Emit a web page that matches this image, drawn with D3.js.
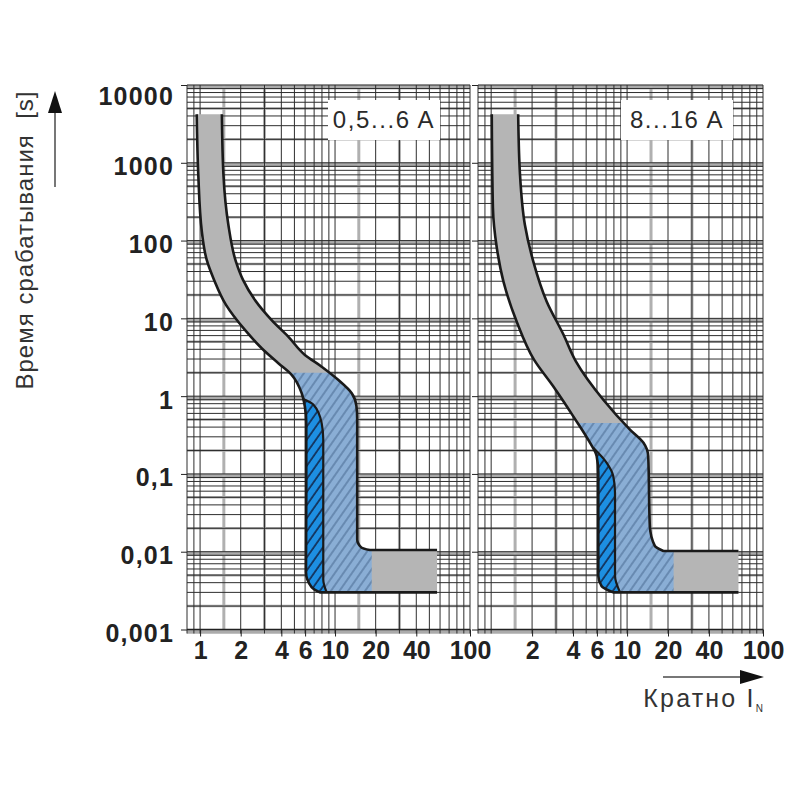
<!DOCTYPE html>
<html>
<head>
<meta charset="utf-8">
<script src="https://cdn.jsdelivr.net/npm/d3@7"></script>
<style>
  body { margin: 0; background: #fff; }
  svg { display: block; }
  text { font-family: "Liberation Sans", Arial, Helvetica, sans-serif; }
</style>
</head>
<body>
<svg id="chart" width="800" height="800"></svg>
<script>
// ---------------- DATA ----------------
const yTickValues = [10000, 1000, 100, 10, 1, 0.1, 0.01, 0.001];
const yTickLabels = ["10000", "1000", "100", "10", "1", "0,1", "0,01", "0,001"];
const xTicksLeft = [1, 2, 4, 6, 10, 20, 40, 100];
const xTickLabelsLeft = ["1", "2", "4", "6", "10", "20", "40", "100"];
const xTicksRight = [2, 4, 6, 10, 20, 40, 100];
const xTickLabelsRight = ["2", "4", "6", "10", "20", "40", "100"];
const panelTitles = ["0,5...6 A", "8...16 A"];
const yTitle = "Время срабатывания  [s]";
const xTitle = "Кратно I";
const xTitleSub = "N";

// curves: [multiple of I_N, trip time in s]
// panel A: 0,5...6 A
const minCurveA = [[0.944, 4200], [0.97, 700], [1.03, 131], [1.12, 56.4], [1.27, 31.2], [1.556, 14.9],
  [2.15, 7.1], [2.86, 4.13], [3.8, 2.65], [4.77, 1.88], [5.66, 1.09], [5.98, 0.73], [6.12, 0.45],
  [6.12, 0.05], [6.09, 0.0055], [6.71, 0.0035], [7.73, 0.003], [57, 0.003]];
const maxCurveA = [[1.45, 4200], [1.49, 700], [1.62, 160], [1.846, 53.1], [2.08, 31.2], [2.55, 17.2],
  [3.39, 9.5], [4.5, 5.82], [5.98, 3.39], [7.96, 2.39], [10.6, 1.61], [13.3, 1.09], [14.4, 0.75],
  [14.6, 0.5], [14.6, 0.0144], [15.7, 0.0113], [18.1, 0.0105], [57, 0.0105]];
const innerCurveA = [[5.82, 0.92], [6.9, 0.78], [7.96, 0.45], [8.18, 0.277], [8.18, 0.0044], [8.67, 0.003]];
const blueLimitA = [18.7, 2.0];   // [max multiple, max seconds] of hatched zone

// panel B: 8...16 A
const minCurveB = [[1.01, 4200], [1.03, 264], [1.10, 81], [1.23, 29.9], [1.54, 9.1], [2.065, 2.95],
  [2.86, 1.34], [4.02, 0.55], [5.33, 0.252], [5.97, 0.17], [6.14, 0.1035], [6.14, 0.0049],
  [6.5, 0.0036], [7.91, 0.003], [66, 0.003]];
const maxCurveB = [[1.58, 4200], [1.63, 700], [1.77, 160], [2.04, 54], [2.56, 16.5], [3.4, 6.2],
  [4.21, 2.78], [6.68, 0.9], [10.5, 0.372], [13.2, 0.252], [14.3, 0.17], [14.7, 0.0214],
  [16.0, 0.0119], [18.5, 0.0102], [66, 0.0102]];
const innerCurveB = [[5.64, 0.217], [7.08, 0.139], [7.91, 0.094], [8.15, 0.057], [8.15, 0.0049], [8.87, 0.003]];
const blueLimitB = [22, 0.45];

// ---------------- CHART ----------------
const svg = d3.select("#chart");
const defs = svg.append("defs");
const FONT = '"Liberation Sans", Arial, Helvetica, sans-serif';

const yTop = 85, yBottom = 629.5;
const y = d3.scaleLog().domain([0.001, 10000]).range([yBottom, yTop]);

function hatch(id, bg, fg, w, size) {
  const p = defs.append("pattern").attr("id", id)
    .attr("patternUnits", "userSpaceOnUse")
    .attr("width", size).attr("height", size)
    .attr("patternTransform", "rotate(35)");
  p.append("rect").attr("width", size).attr("height", size).attr("fill", bg);
  p.append("line").attr("x1", 1).attr("y1", 0).attr("x2", 1).attr("y2", size)
    .attr("stroke", fg).attr("stroke-width", w);
}
hatch("hatchLight", "#8aaed5", "#55779e", 1.3, 7);
hatch("hatchDark", "#1d8fe2", "#13335c", 1.8, 7.5);

const panels = [
  { range: [187, 470], title: panelTitles[0], min: minCurveA, max: maxCurveA, inner: innerCurveA,
    blue: blueLimitA, ticks: xTicksLeft, labels: xTickLabelsLeft },
  { range: [478, 763], title: panelTitles[1], min: minCurveB, max: maxCurveB, inner: innerCurveB,
    blue: blueLimitB, ticks: xTicksRight, labels: xTickLabelsRight }
];

function leadDigit(v) {
  const p = Math.pow(10, Math.floor(Math.log10(v) + 1e-9));
  return Math.round(v / p * 10) / 10;
}

panels.forEach((p, i) => {
  const x = d3.scaleLog().domain([0.8, 100]).range(p.range);
  const g = svg.append("g");
  const [x0, x1] = p.range;

  // --- grid ---
  const yVals = y.ticks();
  const xVals = x.ticks();
  const grayX = xVals.filter(v => leadDigit(v) === 1).flatMap(v => [v * 1.5, v * 3]).filter(v => v < 100);

  g.append("g").selectAll("line")
    .data(yVals.filter(v => [1, 2, 5].includes(leadDigit(v))))
    .join("line")
    .attr("x1", x0).attr("x2", x1)
    .attr("y1", d => y(d) + (leadDigit(d) === 1 ? 2 : 0))
    .attr("y2", d => y(d) + (leadDigit(d) === 1 ? 2 : 0))
    .attr("stroke", "#ababab")
    .attr("stroke-width", d => leadDigit(d) === 1 ? 4.5 : 2.5);
  g.append("g").selectAll("line").data(grayX).join("line")
    .attr("x1", d => x(d)).attr("x2", d => x(d))
    .attr("y1", yTop).attr("y2", yBottom)
    .attr("stroke", "#b0b0b0").attr("stroke-width", 3);
  g.append("g").selectAll("line").data(yVals).join("line")
    .attr("x1", x0).attr("x2", x1)
    .attr("y1", d => y(d)).attr("y2", d => y(d))
    .attr("stroke", "#2e2e2e").attr("stroke-width", 1);
  g.append("g").selectAll("line").data(xVals).join("line")
    .attr("x1", d => x(d)).attr("x2", d => x(d))
    .attr("y1", yTop).attr("y2", yBottom + 4)
    .attr("stroke", "#2e2e2e").attr("stroke-width", 1);
  g.append("line").attr("x1", x0).attr("x2", x1).attr("y1", yBottom).attr("y2", yBottom)
    .attr("stroke", "#222").attr("stroke-width", 1.6);

  // --- curves ---
  const mono = d3.line().x(d => x(d[0])).y(d => y(d[1])).curve(d3.curveMonotoneY);
  // smooth part (monotone in time) + straight horizontal tail
  function curvePath(pts) {
    const n = pts.length;
    if (pts[n - 1][1] === pts[n - 2][1]) {
      return mono(pts.slice(0, -1)) + `L${x(pts[n - 1][0])},${y(pts[n - 1][1])}`;
    }
    return mono(pts);
  }
  function curvePathReversed(pts) {
    const n = pts.length;
    const body = pts.slice(0, -1).reverse();
    return `L${x(pts[n - 1][0])},${y(pts[n - 1][1])}` + mono(body).replace(/^M/, "L");
  }
  const bandD = curvePath(p.min) + curvePathReversed(p.max) + "Z";

  const lightId = "lightClip" + i, darkId = "darkClip" + i;
  defs.append("clipPath").attr("id", lightId).append("rect")
    .attr("x", x0).attr("y", y(p.blue[1]))
    .attr("width", x(p.blue[0]) - x0).attr("height", yBottom - y(p.blue[1]));
  const last = p.inner[p.inner.length - 1];
  defs.append("clipPath").attr("id", darkId).append("path")
    .attr("d", mono(p.inner) + `L${x(last[0])},${yBottom}L${x0},${yBottom}L${x0},${y(p.inner[0][1])}Z`);

  g.append("path").attr("d", bandD).attr("fill", "#b5b5b5");
  g.append("path").attr("d", bandD).attr("fill", "url(#hatchLight)").attr("clip-path", `url(#${lightId})`);
  g.append("path").attr("d", bandD).attr("fill", "url(#hatchDark)").attr("clip-path", `url(#${darkId})`);

  [p.min, p.max].forEach(c => {
    g.append("path").attr("d", curvePath(c)).attr("fill", "none")
      .attr("stroke", "#1a1a1a").attr("stroke-width", 2.6).attr("stroke-linejoin", "round");
  });
  g.append("path").attr("d", mono(p.inner)).attr("fill", "none")
    .attr("stroke", "#1a1a1a").attr("stroke-width", 2.2);

  // --- panel title box ---
  g.append("rect").attr("x", x1 - 142).attr("y", 100).attr("width", 112).attr("height", 40)
    .attr("fill", "#fff");
  g.append("text").attr("x", x1 - 86).attr("y", 128).attr("text-anchor", "middle")
    .attr("font-size", 24).attr("letter-spacing", 1.6).attr("fill", "#2a2a2a").text(p.title);

  // --- x axis labels ---
  const xa = svg.append("g").attr("transform", `translate(0,${yBottom})`)
    .call(d3.axisBottom(x).tickValues(p.ticks).tickFormat((d, k) => p.labels[k]).tickSize(7).tickPadding(5));
  xa.select(".domain").remove();
  xa.selectAll("line").attr("stroke", "#222");
  xa.attr("font-family", FONT).attr("font-size", 25).attr("font-weight", "bold");
  xa.selectAll("text").attr("fill", "#222");

  // --- y axis ---
  const ya = svg.append("g").attr("transform", `translate(${x0},0)`)
    .call(d3.axisLeft(y).tickValues(yTickValues)
      .tickFormat((d, k) => i === 0 ? yTickLabels[k] : "").tickSize(6).tickPadding(7));
  ya.select(".domain").remove();
  ya.selectAll("line").attr("stroke", "#222");
  ya.attr("font-family", FONT).attr("font-size", 25).attr("font-weight", "bold");
  ya.selectAll("text").attr("fill", "#222").attr("letter-spacing", 1.2)
    .attr("dy", d => d === 10000 ? "0.76em" : "0.48em");
});

// --- axis titles ---
svg.append("text")
  .attr("transform", "translate(33,240) rotate(-90)")
  .attr("text-anchor", "middle").attr("font-size", 24).attr("letter-spacing", 1)
  .attr("fill", "#333")
  .style("white-space", "pre")
  .text(yTitle);
svg.append("line").attr("x1", 55).attr("x2", 55).attr("y1", 187).attr("y2", 108)
  .attr("stroke", "#777").attr("stroke-width", 2);
svg.append("path").attr("d", "M55,91L48,113L62,113Z").attr("fill", "#111");

const xt = svg.append("text").attr("x", 763).attr("y", 707).attr("text-anchor", "end")
  .attr("font-size", 25).attr("fill", "#333");
xt.append("tspan").attr("letter-spacing", 2.2).text(xTitle);
xt.append("tspan").attr("font-size", 10).attr("dy", 5).text(xTitleSub);
svg.append("line").attr("x1", 663).attr("x2", 745).attr("y1", 677).attr("y2", 677)
  .attr("stroke", "#777").attr("stroke-width", 2);
svg.append("path").attr("d", "M764,677L740,670L740,684Z").attr("fill", "#111");
</script>
</body>
</html>
